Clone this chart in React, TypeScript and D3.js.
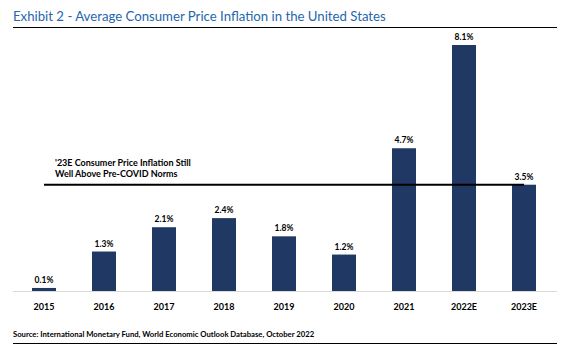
import React, { useRef, useEffect } from "react";
import * as d3 from "d3";

const years = ["2015", "2016", "2017", "2018", "2019", "2020", "2021", "2022E", "2023E"];
const inflation = [0.1, 1.3, 2.1, 2.4, 1.8, 1.2, 4.7, 8.1, 3.5];
const refValue = 3.5;
const noteLines = ["'23E Consumer Price Inflation Still", "Well Above Pre-COVID Norms"];
const title = "Exhibit 2 - Average Consumer Price Inflation in the United States";
const source = "Source: International Monetary Fund, World Economic Outlook Database, October 2022";

const App = () => {
  const ref = useRef<SVGSVGElement>(null);

  useEffect(() => {
    const svg = d3.select(ref.current);
    svg.selectAll("*").remove();

    const W = 575;
    const H = 351;
    const left = 13;
    const right = 557;
    const baseY = 291;
    const font = "Lato, 'Open Sans', sans-serif";

    svg.attr("width", W).attr("height", H).style("font-family", font);

    // title + rule
    svg.append("text")
      .attr("x", left)
      .attr("y", 21)
      .attr("fill", "#2566b0")
      .style("font-size", "13.2px")
      .text(title);
    svg.append("line")
      .attr("x1", left).attr("x2", right)
      .attr("y1", 27.5).attr("y2", 27.5)
      .attr("stroke", "#000").attr("stroke-width", 1);

    const x = d3.scaleBand()
      .domain(years)
      .range([14, 554])
      .paddingInner(0.6)
      .paddingOuter(0.3);
    const y = d3.scaleLinear().domain([0, 8.1]).range([baseY, 45]);

    // bars
    svg.append("g")
      .selectAll("rect")
      .data(years)
      .join("rect")
      .attr("x", (d) => x(d)!)
      .attr("y", (d, i) => y(inflation[i]))
      .attr("width", x.bandwidth())
      .attr("height", (d, i) => baseY - y(inflation[i]))
      .attr("fill", "#1f3864");

    // baseline
    svg.append("line")
      .attr("x1", left).attr("x2", right)
      .attr("y1", baseY + 0.5).attr("y2", baseY + 0.5)
      .attr("stroke", "#d9d9d9").attr("stroke-width", 1);

    // value labels
    svg.append("g")
      .selectAll("text")
      .data(years)
      .join("text")
      .attr("x", (d) => x(d)! + x.bandwidth() / 2)
      .attr("y", (d, i) => y(inflation[i]) - 5)
      .attr("text-anchor", "middle")
      .style("font-size", "8.5px")
      .style("font-weight", "bold")
      .text((d, i) => `${inflation[i].toFixed(1)}%`);

    // category labels
    svg.append("g")
      .selectAll("text")
      .data(years)
      .join("text")
      .attr("x", (d) => x(d)! + x.bandwidth() / 2)
      .attr("y", 310)
      .attr("text-anchor", "middle")
      .style("font-size", "9px")
      .style("font-weight", "bold")
      .text((d) => d);

    // reference line at 2023E level
    const lastX = x(years[years.length - 1])! + x.bandwidth() / 2;
    svg.append("line")
      .attr("x1", 44).attr("x2", lastX)
      .attr("y1", y(refValue)).attr("y2", y(refValue))
      .attr("stroke", "#000").attr("stroke-width", 2);

    svg.append("g")
      .selectAll("text")
      .data(noteLines)
      .join("text")
      .attr("x", 55)
      .attr("y", (d, i) => 166 + i * 11)
      .style("font-size", "9px")
      .style("font-weight", "bold")
      .text((d) => d);

    // source + rule
    svg.append("text")
      .attr("x", left)
      .attr("y", 337)
      .style("font-size", "7.7px")
      .style("font-weight", "bold")
      .text(source);
    svg.append("line")
      .attr("x1", left).attr("x2", right)
      .attr("y1", 343.5).attr("y2", 343.5)
      .attr("stroke", "#000").attr("stroke-width", 1);
  }, []);

  return <svg ref={ref} style={{ display: "block", position: "absolute", left: 0, top: 0 }} />;
};

export default App;
